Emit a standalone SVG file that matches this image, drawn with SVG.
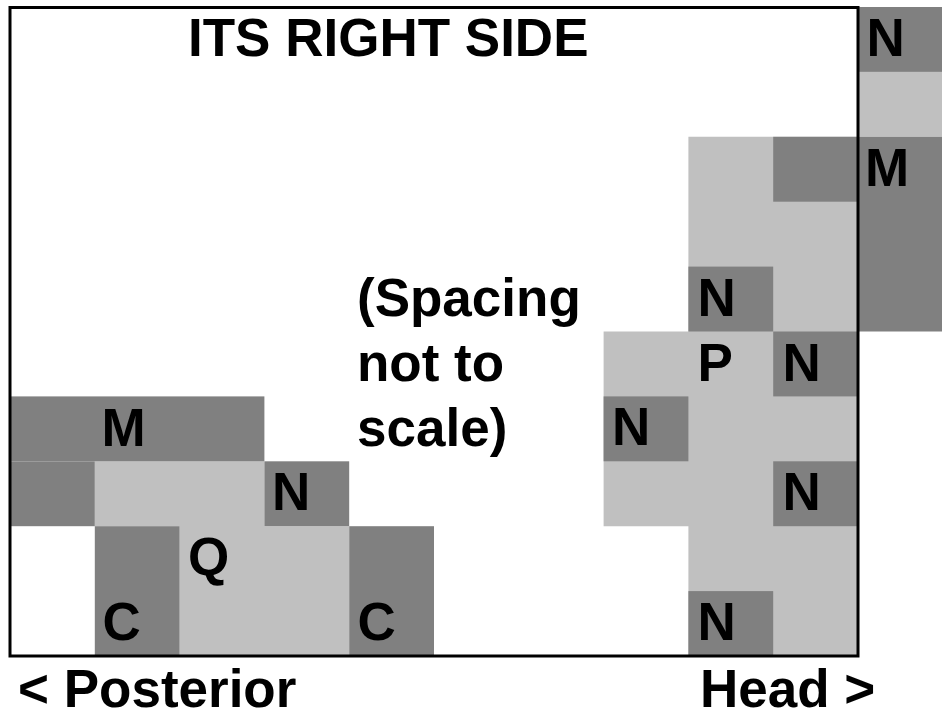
<svg xmlns="http://www.w3.org/2000/svg" width="942" height="720" viewBox="0 0 942 720">
<style>
  text { font-family: "Liberation Sans", Arial, sans-serif; font-weight: bold; font-size: 53px; fill: #000; }
  .dk { fill: #808080; }
  .lt { fill: #C0C0C0; }
</style>
<rect x="0" y="0" width="942" height="720" fill="#fff"/>
<g id="connectors"></g>

<!-- light regions -->
<g id="left-light-region">
  <path class="lt" d="M94.8,461.3 H264.4 V526.2 H349.2 V656 H179.6 V526.2 H94.8 Z"/>
</g>
<g id="right-light-region">
  <path class="lt" d="M688.4,136.8 H858 V656 H688.4 V526.2 H603.6 V331.5 H688.4 Z"/>
</g>
<g id="edge-light">
  <rect class="lt" x="858" y="71.9" width="84" height="64.9"/>
</g>

<!-- left dark cells -->
<g id="node-M-left"><rect class="dk" x="10" y="396.4" width="254.4" height="64.9"/><text x="101.5" y="445.5">M</text></g>
<g id="cell-dark-l7"><rect class="dk" x="10" y="461.3" width="84.8" height="64.9"/></g>
<g id="node-N-left"><rect class="dk" x="264.4" y="461.3" width="84.8" height="64.9"/><text x="272" y="510.4">N</text></g>
<g id="node-C-left"><rect class="dk" x="94.8" y="526.2" width="84.8" height="129.8"/><text x="102.5" y="640.2">C</text></g>
<g id="node-C-right"><rect class="dk" x="349.2" y="526.2" width="84.8" height="129.8"/><text x="357.5" y="640.2">C</text></g>
<g id="node-Q"><text x="188" y="575.2">Q</text></g>

<!-- right cells -->
<g id="node-N-top"><rect class="dk" x="858" y="7" width="84" height="64.9"/><text x="866.5" y="56">N</text></g>
<g id="node-M-right"><rect class="dk" x="858" y="136.8" width="84" height="194.7"/><text x="865" y="185.8">M</text></g>
<g id="cell-dark-r2"><rect class="dk" x="773.2" y="136.8" width="84.8" height="64.9"/></g>
<g id="node-N-r4"><rect class="dk" x="688.4" y="266.6" width="84.8" height="64.9"/><text x="697.5" y="315.6">N</text></g>
<g id="node-P"><text x="697.5" y="380.5">P</text></g>
<g id="node-N-r5"><rect class="dk" x="773.2" y="331.5" width="84.8" height="64.9"/><text x="782.5" y="380.5">N</text></g>
<g id="node-N-r6"><rect class="dk" x="603.6" y="396.4" width="84.8" height="64.9"/><text x="612" y="445.4">N</text></g>
<g id="node-N-r7"><rect class="dk" x="773.2" y="461.3" width="84.8" height="64.9"/><text x="782.5" y="510.3">N</text></g>
<g id="node-N-r9"><rect class="dk" x="688.4" y="591.1" width="84.8" height="64.9"/><text x="697.5" y="640.1">N</text></g>

<!-- frame -->
<g id="frame"><rect x="10" y="7.5" width="848" height="648.5" fill="none" stroke="#000" stroke-width="3"/></g>

<!-- labels -->
<g id="title"><text x="188" y="56">ITS RIGHT SIDE</text></g>
<g id="note">
  <text x="357" y="315.5">(Spacing</text>
  <text x="357" y="380.5">not to</text>
  <text x="357" y="445.5">scale)</text>
</g>
<g id="label-posterior"><text x="18" y="707">&lt; Posterior</text></g>
<g id="label-head"><text x="700" y="707">Head &gt;</text></g>
</svg>
